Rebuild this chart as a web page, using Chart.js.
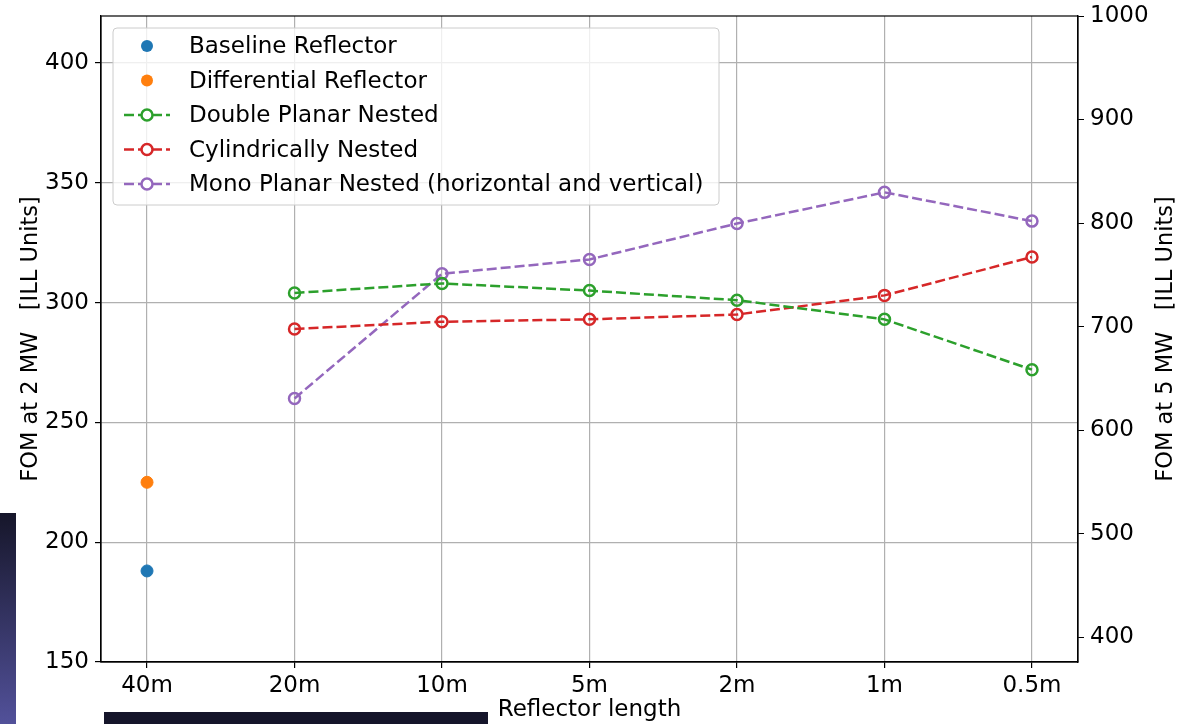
<!DOCTYPE html>
<html>
<head>
<meta charset="utf-8">
<script src="https://cdn.jsdelivr.net/npm/chart.js@4.4.1/dist/chart.umd.min.js"></script>
<style>
  body { margin: 0; background: #fff; overflow: hidden; }
  #wrap { position: relative; width: 1202px; height: 724px; }
  .strip-left { position: absolute; left: 0; top: 513px; width: 16px; height: 211px;
    background: linear-gradient(#16162a, #52519a); }
  .strip-bottom { position: absolute; left: 104px; top: 712px; width: 384px; height: 12px; background: #15152a; }
</style>
</head>
<body>
<div id="wrap">
  <canvas id="chart" width="1202" height="724"></canvas>
  <div class="strip-left"></div>
  <div class="strip-bottom"></div>
</div>
<script>
// ======================
// DATA
// ======================
const lengths = ["40m", "20m", "10m", "5m", "2m", "1m", "0.5m"];

const baseline = [188, null, null, null, null, null, null];
const differential = [225, null, null, null, null, null, null];
const doublePlanar = [null, 304, 308, 305, 301, 293, 272];
const cylindrical = [null, 289, 292, 293, 295, 303, 319];
const monoPlanar = [null, 260, 312, 318, 333, 346, 334];

const leftTicks = [150, 200, 250, 300, 350, 400];
const rightTicks = [400, 500, 600, 700, 800, 900, 1000];

const FONT = "'DejaVu Sans', sans-serif";
const TICK_SIZE = 23;

function toPoints(values) {
  return values.map((v, i) => ({ x: i, y: v }));
}

function markerSet(label, values, color) {
  return {
    label: label,
    data: toPoints(values),
    showLine: false,
    pointRadius: 6,
    pointBackgroundColor: color,
    pointBorderColor: color,
    borderColor: color,
    backgroundColor: color,
    legendKind: "dot"
  };
}

function dashedSet(label, values, color) {
  return {
    label: label,
    data: toPoints(values),
    borderColor: color,
    backgroundColor: color,
    borderWidth: 2.5,
    borderDash: [10, 4],
    pointRadius: 5.5,
    pointBorderWidth: 2.5,
    pointBorderColor: color,
    pointBackgroundColor: "rgba(0,0,0,0)",
    legendKind: "line"
  };
}

function drawRotated(ctx, text, x, y) {
  ctx.save();
  ctx.translate(x, y);
  ctx.rotate(-Math.PI / 2);
  ctx.fillText(text, 0, 0);
  ctx.restore();
}

function fixWidth(w) {
  return (s) => {
    s.width = w;
    s.paddingTop = 0;
    s.paddingBottom = 0;
  };
}

// frame, y titles and legend drawn on top
const framePlugin = {
  id: "frame",
  afterDatasetsDraw(chart) {
    const { ctx, chartArea: a } = chart;
    ctx.save();
    ctx.strokeStyle = "#000";
    ctx.lineWidth = 1.2;
    ctx.strokeRect(a.left, a.top, a.right - a.left, a.bottom - a.top);

    // y axis titles (both read bottom to top)
    ctx.fillStyle = "#000";
    ctx.font = "22.5px " + FONT;
    ctx.textAlign = "center";
    ctx.textBaseline = "middle";
    const midY = (a.top + a.bottom) / 2;
    drawRotated(ctx, "FOM at 2 MW   [ILL Units]", 31, midY);
    drawRotated(ctx, "FOM at 5 MW   [ILL Units]", 1166, midY);

    // legend box
    const x = 113, y = 28, w = 606, h = 177;
    ctx.fillStyle = "rgba(255,255,255,0.8)";
    ctx.strokeStyle = "#cccccc";
    ctx.lineWidth = 1;
    ctx.beginPath();
    ctx.roundRect(x, y, w, h, 4);
    ctx.fill();
    ctx.stroke();

    ctx.font = TICK_SIZE + "px " + FONT;
    ctx.textAlign = "left";
    chart.data.datasets.forEach((ds, i) => {
      const cy = 46 + i * 34.5;
      const color = ds.borderColor;
      if (ds.legendKind === "line") {
        ctx.strokeStyle = color;
        ctx.lineWidth = 2.5;
        ctx.setLineDash([10, 4]);
        ctx.beginPath();
        ctx.moveTo(124, cy);
        ctx.lineTo(170, cy);
        ctx.stroke();
        ctx.setLineDash([]);
        ctx.fillStyle = "#fff";
        ctx.beginPath();
        ctx.arc(147, cy, 5.5, 0, Math.PI * 2);
        ctx.fill();
        ctx.stroke();
      } else {
        ctx.fillStyle = color;
        ctx.beginPath();
        ctx.arc(147, cy, 6, 0, Math.PI * 2);
        ctx.fill();
      }
      ctx.fillStyle = "#000";
      ctx.fillText(ds.label, 189, cy + 1.5);
    });
    ctx.restore();
  }
};

new Chart(document.getElementById("chart"), {
  type: "line",
  data: {
    datasets: [
      markerSet("Baseline Reflector", baseline, "#1f77b4"),
      markerSet("Differential Reflector", differential, "#ff7f0e"),
      dashedSet("Double Planar Nested", doublePlanar, "#2ca02c"),
      dashedSet("Cylindrically Nested", cylindrical, "#d62728"),
      dashedSet("Mono Planar Nested (horizontal and vertical)", monoPlanar, "#9467bd")
    ]
  },
  options: {
    responsive: false,
    animation: false,
    layout: { padding: { top: 16 } },
    plugins: {
      legend: { display: false },
      tooltip: { enabled: false }
    },
    scales: {
      x: {
        type: "linear",
        min: -0.312,
        max: 6.312,
        afterBuildTicks: (s) => { s.ticks = lengths.map((_, i) => ({ value: i })); },
        afterFit: (s) => { s.height = 62; },
        ticks: {
          autoSkip: false,
          maxRotation: 0,
          padding: 4,
          color: "#000",
          font: { family: FONT, size: TICK_SIZE },
          callback: (v) => lengths[v]
        },
        grid: { color: "#b0b0b0", lineWidth: 1.2, tickColor: "#000", tickLength: 6 },
        border: { color: "#000", width: 1.2 },
        title: {
          display: true,
          text: "Reflector length",
          color: "#000",
          font: { family: FONT, size: TICK_SIZE },
          padding: { top: 0, bottom: 0 }
        }
      },
      y: {
        position: "left",
        min: 150,
        max: 419.6,
        afterBuildTicks: (s) => { s.ticks = leftTicks.map(v => ({ value: v })); },
        afterFit: fixWidth(101),
        ticks: {
          padding: 6,
          color: "#000",
          font: { family: FONT, size: TICK_SIZE },
          callback: (v) => String(v)
        },
        grid: { color: "#b0b0b0", lineWidth: 1.2, tickColor: "#000", tickLength: 6 },
        border: { color: "#000", width: 1.2 }
      },
      y2: {
        position: "right",
        min: 376,
        max: 1000,
        afterBuildTicks: (s) => { s.ticks = rightTicks.map(v => ({ value: v })); },
        afterFit: fixWidth(124),
        ticks: {
          padding: 6,
          color: "#000",
          font: { family: FONT, size: TICK_SIZE },
          callback: (v) => String(v)
        },
        grid: { drawOnChartArea: false, tickColor: "#000", tickLength: 6 },
        border: { color: "#000", width: 1.2 }
      }
    }
  },
  plugins: [framePlugin]
});
</script>
</body>
</html>
